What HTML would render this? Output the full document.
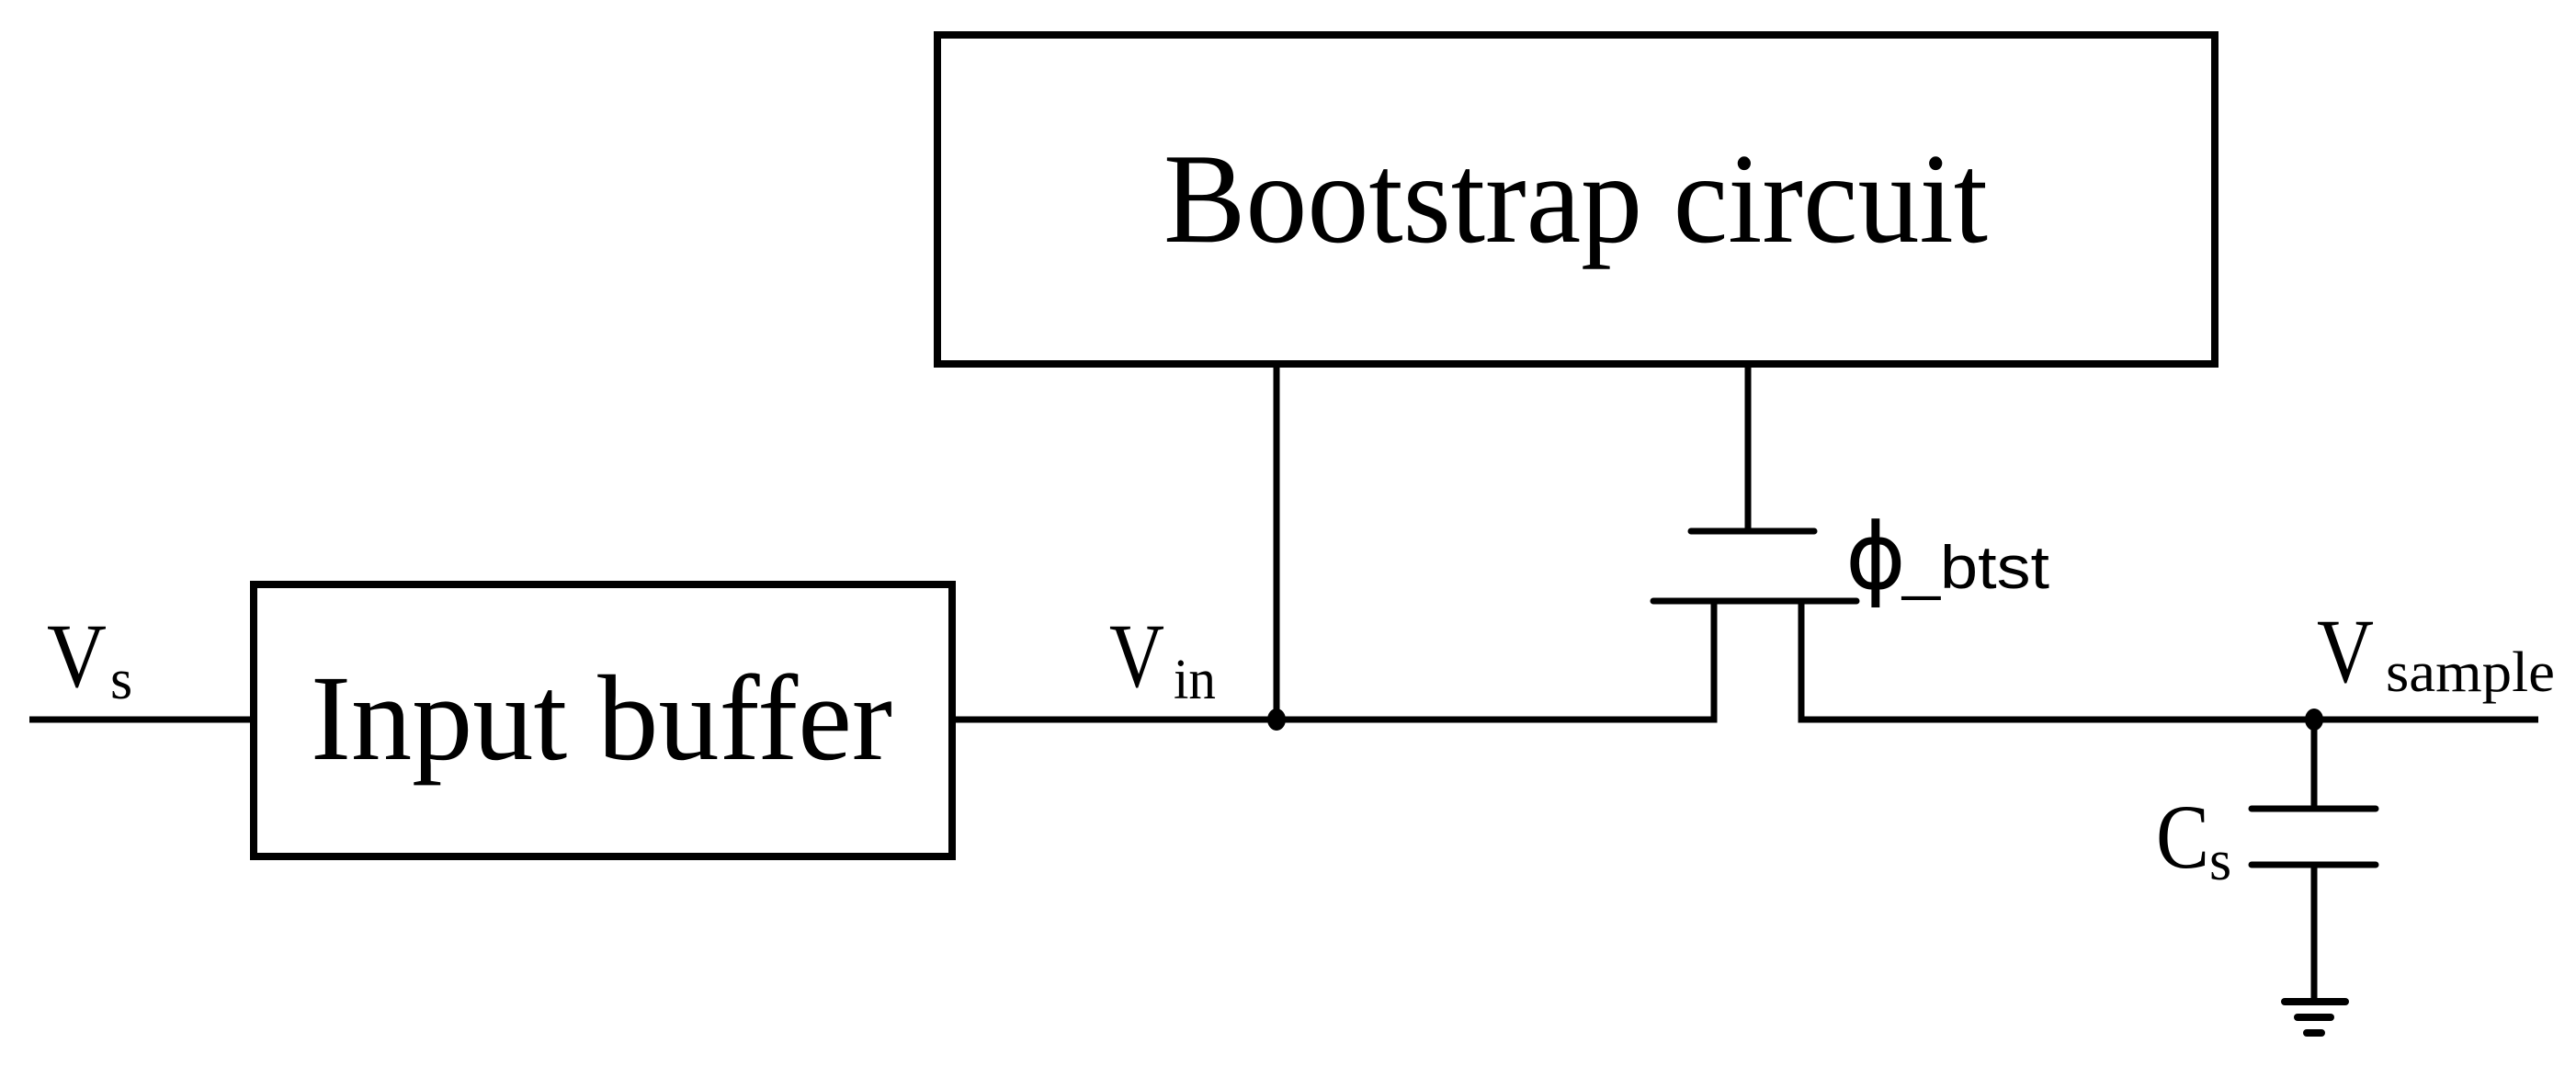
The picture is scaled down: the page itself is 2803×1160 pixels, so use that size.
<!DOCTYPE html>
<html><head><meta charset="utf-8"><style>
html,body{margin:0;padding:0;background:#fff;}
svg{display:block;}
text{font-family:"Liberation Serif",serif;fill:#000;}
</style></head><body>
<svg width="2803" height="1160" viewBox="0 0 2803 1160" xmlns="http://www.w3.org/2000/svg">
<g stroke="#000" stroke-width="7" fill="none" stroke-linecap="butt">
<rect x="1020" y="38" width="1390" height="358" stroke-width="8"/>
<rect x="276" y="636" width="760" height="296" stroke-width="8"/>
<line x1="32" y1="783" x2="276" y2="783"/>
<polyline points="1036,783 1865,783 1865,654"/>
<line x1="1389" y1="396" x2="1389" y2="783"/>
<line x1="1902" y1="396" x2="1902" y2="578"/>
<line x1="1840" y1="578" x2="1974" y2="578" stroke-linecap="round"/>
<line x1="1799" y1="654" x2="2020" y2="654" stroke-linecap="round"/>
<polyline points="1960,654 1960,783 2762,783"/>
<line x1="2518" y1="783" x2="2518" y2="880"/>
<line x1="2450" y1="880" x2="2585" y2="880" stroke-linecap="round"/>
<line x1="2450" y1="941" x2="2585" y2="941" stroke-linecap="round"/>
<line x1="2518" y1="941" x2="2518" y2="1090"/>
<line x1="2486" y1="1090" x2="2552" y2="1090" stroke-width="8" stroke-linecap="round"/>
<line x1="2500" y1="1107" x2="2536" y2="1107" stroke-width="8" stroke-linecap="round"/>
<line x1="2510" y1="1124" x2="2526" y2="1124" stroke-width="8" stroke-linecap="round"/>
</g>
<ellipse cx="1389" cy="783" rx="10" ry="12" fill="#000"/>
<ellipse cx="2518" cy="783" rx="10" ry="12" fill="#000"/>
<text x="1266" y="263" font-size="140" textLength="897" lengthAdjust="spacingAndGlyphs">Bootstrap circuit</text>
<text x="338" y="826" font-size="133" textLength="633" lengthAdjust="spacingAndGlyphs">Input buffer</text>
<text x="51" y="747" font-size="100" textLength="65" lengthAdjust="spacingAndGlyphs">V</text>
<text x="120" y="760" font-size="62">s</text>
<text x="1207" y="747" font-size="100" textLength="60" lengthAdjust="spacingAndGlyphs">V</text>
<text x="1277" y="760" font-size="62" textLength="46" lengthAdjust="spacingAndGlyphs">in</text>
<text x="2521" y="742" font-size="100" textLength="62" lengthAdjust="spacingAndGlyphs">V</text>
<text x="2596" y="752" font-size="62" textLength="184" lengthAdjust="spacingAndGlyphs">sample</text>
<text x="2346" y="944" font-size="100" textLength="58" lengthAdjust="spacingAndGlyphs">C</text>
<text x="2404" y="957" font-size="62">s</text>
<text x="2008" y="640" font-size="100" style="font-family:'DejaVu Sans',sans-serif">ϕ</text>
<text x="2070" y="640" font-size="66" style="font-family:'Liberation Sans',sans-serif" textLength="160" lengthAdjust="spacingAndGlyphs">_btst</text>
</svg>
</body></html>
